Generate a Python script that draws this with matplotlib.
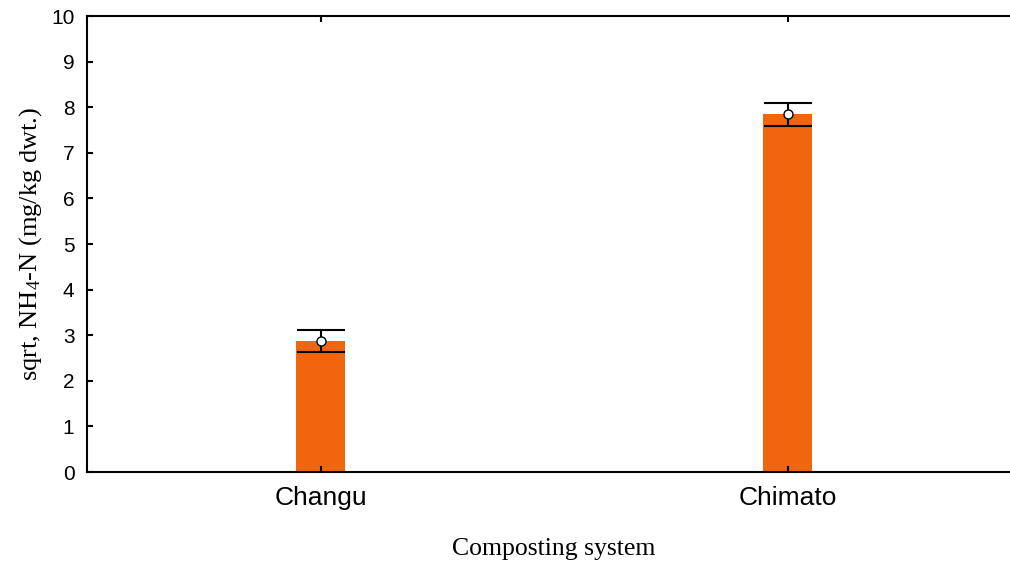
import matplotlib
matplotlib.use("Agg")
import matplotlib.pyplot as plt

plt.rcParams["mathtext.fontset"] = "custom"
plt.rcParams["mathtext.rm"] = "Liberation Serif"
plt.rcParams["mathtext.it"] = "Liberation Serif:italic"
plt.rcParams["mathtext.default"] = "rm"

systems = ["Changu", "Chimato"]
means = [2.87, 7.84]
errors = [0.245, 0.25]
yticks = [0, 1, 2, 3, 4, 5, 6, 7, 8, 9, 10]

bar_color = "#F2650F"

fig = plt.figure(figsize=(10.10, 5.61), dpi=100)
ax = fig.add_axes([87 / 1010, 1 - 472 / 561, 934 / 1010, (472 - 16) / 561])

x = list(range(len(systems)))
ax.bar(x, means, width=0.103, color=bar_color, zorder=1)
ax.errorbar(x, means, yerr=errors, fmt="none", ecolor="black",
            elinewidth=1.5, capsize=17.3, capthick=1.5, zorder=2)
ax.plot(x, means, "o", markersize=6.5, markerfacecolor="white",
        markeredgecolor="black", markeredgewidth=1.0, zorder=3)

ax.set_xlim(-0.5, 1.5)
ax.set_ylim(0, 10)
ax.set_yticks(yticks)
ax.set_xticks(x)
ax.set_xticklabels(systems)

for side in ["left", "top", "bottom"]:
    ax.spines[side].set_linewidth(1.5)
ax.spines["right"].set_visible(False)

ax.tick_params(axis="both", direction="in", length=4, width=1.5, top=True)
ax.tick_params(axis="y", labelsize=15, pad=9)
ax.tick_params(axis="x", labelsize=19, pad=10)
for lab in ax.get_xticklabels() + ax.get_yticklabels():
    lab.set_fontfamily("Liberation Sans")

ax.set_ylabel("sqrt, NH$_4$-N (mg/kg dwt.)", fontfamily="Liberation Serif",
              fontsize=19, labelpad=5)
ax.set_xlabel("Composting system", fontfamily="Liberation Serif",
              fontsize=18.5, labelpad=20)

fig.savefig("out.png", dpi=100)
